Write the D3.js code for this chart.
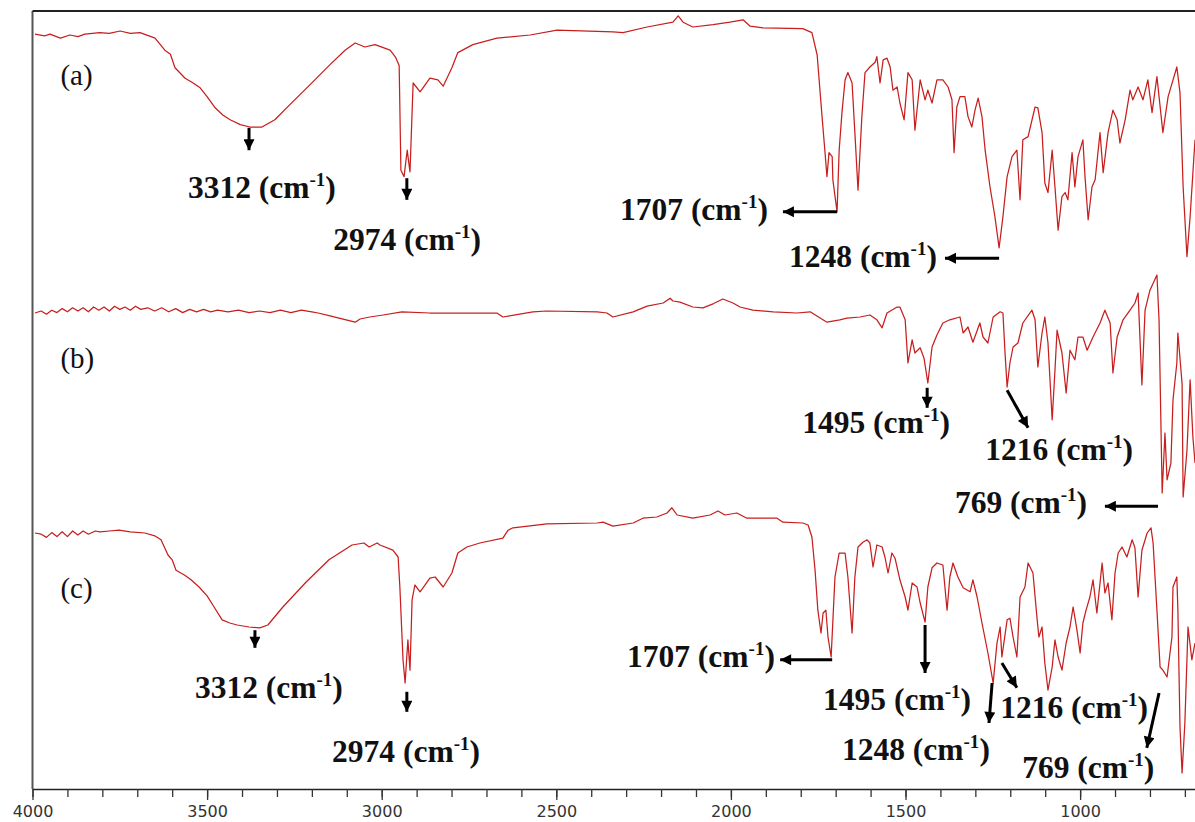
<!DOCTYPE html>
<html>
<head>
<meta charset="utf-8">
<script src="https://cdn.jsdelivr.net/npm/d3@7/dist/d3.min.js"></script>
<style>
  body { margin: 0; background: #fff; }
  svg { display: block; }
</style>
</head>
<body>
<svg id="chart"></svg>
<script>
const width = 1195;
const height = 822;

// FTIR spectra, [wavenumber cm-1, transmittance (arbitrary, stacked)]
const specA = [[3993,94.1],[3965,93.9],[3950,94.1],[3920,93.6],[3893,94.0],[3870,93.8],[3850,94.1],[3807,94.3],[3780,94.2],[3749,94.5],[3720,94.2],[3692,94.3],[3649,93.6],[3621,92.1],[3605,91.6],[3592,89.9],[3563,88.6],[3540,88.0],[3520,87.4],[3500,86.3],[3477,84.9],[3455,84.0],[3434,83.4],[3405,82.8],[3377,82.5],[3343,82.5],[3306,83.4],[3263,85.3],[3205,87.8],[3148,90.3],[3105,92.1],[3076,93.0],[3048,92.5],[3019,92.8],[2976,92.1],[2960,91.2],[2950,90.2],[2945,77.1],[2936,76.3],[2927,79.6],[2919,76.9],[2910,88.0],[2890,86.9],[2862,88.6],[2839,88.4],[2824,87.6],[2799,89.9],[2782,91.8],[2739,92.8],[2670,93.6],[2575,94.0],[2498,94.6],[2338,94.4],[2309,94.3],[2240,95.0],[2166,95.6],[2151,96.4],[2137,95.6],[2109,95.0],[2051,95.3],[2003,95.6],[1965,95.9],[1945,95.1],[1908,94.9],[1794,94.8],[1768,94.3],[1753,91.5],[1739,83.8],[1731,79.6],[1725,76.3],[1719,79.3],[1710,78.8],[1708,75.9],[1696,71.9],[1690,79.6],[1682,84.3],[1673,88.4],[1665,89.3],[1653,88.0],[1645,81.8],[1636,74.6],[1625,83.8],[1616,89.3],[1602,90.0],[1587,90.6],[1582,91.3],[1573,88.0],[1564,90.9],[1553,91.1],[1544,90.0],[1536,87.1],[1524,87.5],[1516,85.5],[1504,83.4],[1493,89.3],[1481,88.4],[1473,82.1],[1458,88.4],[1444,85.9],[1436,87.1],[1424,85.5],[1410,88.4],[1393,88.4],[1378,87.5],[1367,85.9],[1361,79.3],[1353,85.0],[1344,86.3],[1330,86.3],[1321,83.8],[1310,82.5],[1301,84.6],[1292,86.1],[1281,83.8],[1272,79.6],[1258,75.0],[1244,71.3],[1232,67.4],[1221,71.3],[1209,76.3],[1195,78.8],[1181,79.6],[1172,73.4],[1164,80.9],[1149,81.3],[1129,85.0],[1121,84.9],[1109,81.8],[1101,75.5],[1092,74.3],[1080,79.6],[1072,75.0],[1063,69.6],[1052,73.8],[1043,74.3],[1035,73.4],[1023,79.3],[1015,75.0],[1006,78.8],[992,80.9],[986,76.3],[977,70.9],[966,75.0],[957,75.9],[943,81.8],[934,76.8],[920,81.8],[906,84.6],[894,83.4],[886,80.5],[871,83.4],[857,87.1],[849,85.9],[834,87.5],[820,85.9],[806,88.4],[794,84.3],[780,88.8],[763,81.8],[748,86.3],[723,90.0],[714,86.8],[705,75.0],[694,66.3],[685,71.3],[671,80.9]];

const specB = [[3993,59.25],[3975,59.5],[3960,59.1],[3945,59.6],[3930,59.3],[3915,59.8],[3900,59.4],[3885,59.9],[3870,59.5],[3855,59.9],[3840,59.4],[3825,60.0],[3810,59.6],[3795,60.0],[3780,59.5],[3765,60.1],[3750,59.7],[3735,60.0],[3720,59.6],[3705,60.1],[3690,59.7],[3670,59.9],[3650,59.5],[3630,59.9],[3610,59.4],[3590,59.8],[3570,59.3],[3550,59.7],[3530,59.4],[3510,59.7],[3490,59.4],[3470,59.6],[3440,59.4],[3410,59.6],[3380,59.3],[3350,59.5],[3320,59.3],[3290,59.6],[3260,59.3],[3230,59.6],[3200,59.4],[3182,59.25],[3148,58.9],[3076,58.1],[3062,58.5],[3034,58.75],[2996,59.0],[2942,59.4],[2862,59.25],[2670,59.25],[2653,58.75],[2567,59.4],[2527,59.5],[2383,59.4],[2355,59.25],[2338,58.75],[2280,59.4],[2240,60.1],[2194,60.5],[2174,61.1],[2166,60.75],[2146,60.6],[2109,60.0],[2080,59.9],[2051,60.4],[2023,61.0],[1994,60.5],[1974,60.0],[1937,59.6],[1879,59.4],[1811,59.25],[1773,59.4],[1725,58.1],[1688,58.4],[1668,58.6],[1630,58.75],[1602,59.0],[1582,58.4],[1567,57.4],[1553,59.25],[1524,60.0],[1516,60.0],[1501,58.4],[1493,53.0],[1481,55.9],[1473,54.25],[1458,54.9],[1447,53.6],[1436,50.5],[1424,55.0],[1410,56.5],[1393,58.0],[1373,58.4],[1344,58.75],[1335,56.75],[1321,57.5],[1307,55.6],[1287,58.0],[1278,56.25],[1264,55.5],[1249,58.75],[1229,59.4],[1221,59.25],[1215,54.25],[1209,50.0],[1201,53.0],[1192,55.0],[1178,55.5],[1164,58.0],[1138,59.6],[1129,58.4],[1121,52.5],[1109,56.75],[1101,58.75],[1092,55.5],[1080,45.9],[1072,52.1],[1066,57.1],[1052,54.25],[1040,49.25],[1029,54.6],[1015,53.4],[1006,56.25],[992,56.25],[980,54.6],[963,56.25],[943,58.0],[929,59.6],[914,58.0],[906,51.75],[894,56.25],[877,58.4],[857,59.6],[843,60.5],[834,61.75],[823,50.25],[814,59.6],[800,62.1],[780,64.0],[774,58.4],[765,36.75],[757,44.25],[751,38.4],[740,40.5],[734,48.4],[723,53.0],[720,56.75],[708,50.4],[705,36.25],[694,42.1],[685,50.9],[677,43.75],[671,40.5]];

const specC = [[3993,31.75],[3975,31.6],[3960,31.2],[3945,31.8],[3930,31.3],[3915,31.9],[3900,31.3],[3885,32.0],[3870,31.5],[3855,32.0],[3840,31.6],[3820,32.0],[3807,31.9],[3780,32.0],[3752,32.1],[3720,31.9],[3678,31.75],[3650,31.4],[3632,30.9],[3612,29.0],[3600,28.4],[3589,27.1],[3565,26.5],[3546,25.9],[3523,25.0],[3500,23.9],[3480,22.5],[3457,20.9],[3435,20.5],[3414,20.25],[3380,20.0],[3349,19.9],[3326,20.25],[3283,22.5],[3217,25.6],[3151,28.4],[3085,30.25],[3051,30.5],[3036,30.0],[3013,30.5],[3005,30.25],[2968,29.6],[2953,28.75],[2948,25.0],[2939,15.9],[2933,13.0],[2925,18.4],[2919,14.6],[2913,23.4],[2905,25.25],[2890,24.4],[2862,26.1],[2847,26.25],[2824,25.0],[2799,26.75],[2782,29.25],[2756,30.0],[2719,30.5],[2653,31.1],[2638,32.1],[2624,32.4],[2527,32.9],[2383,33.0],[2366,33.1],[2338,32.6],[2280,33.0],[2252,33.6],[2212,33.75],[2183,34.25],[2169,34.9],[2154,34.0],[2109,33.6],[2060,34.0],[2037,34.5],[2017,34.0],[1983,34.25],[1954,33.6],[1908,33.6],[1868,33.6],[1851,33.1],[1794,33.0],[1779,32.75],[1768,31.25],[1759,27.1],[1751,22.1],[1742,19.25],[1736,21.75],[1728,22.1],[1722,18.75],[1713,16.25],[1702,26.25],[1690,29.25],[1673,29.25],[1665,26.25],[1653,19.25],[1645,26.25],[1636,30.0],[1622,30.6],[1610,30.9],[1602,30.5],[1593,27.5],[1582,30.25],[1567,30.0],[1559,28.75],[1550,26.75],[1539,29.25],[1530,28.6],[1516,25.9],[1501,23.75],[1493,22.1],[1481,25.5],[1467,25.0],[1458,23.0],[1444,20.6],[1436,25.0],[1424,27.4],[1410,28.0],[1393,27.75],[1381,22.1],[1373,26.25],[1364,28.0],[1350,26.25],[1335,24.9],[1315,24.4],[1307,25.9],[1295,23.75],[1281,20.5],[1264,16.75],[1249,13.0],[1238,18.0],[1229,20.0],[1224,16.25],[1209,20.9],[1201,21.1],[1192,18.75],[1181,16.25],[1172,23.75],[1158,25.0],[1149,28.0],[1135,26.75],[1123,20.9],[1118,18.75],[1109,20.0],[1101,15.5],[1092,12.1],[1080,15.0],[1072,18.4],[1063,16.25],[1052,14.6],[1040,18.0],[1029,20.0],[1020,22.5],[1009,19.6],[1000,16.75],[992,20.5],[983,22.1],[972,23.75],[963,25.9],[952,21.75],[937,28.0],[929,24.25],[920,25.5],[909,20.9],[900,26.75],[891,29.25],[880,30.0],[866,28.75],[851,30.9],[843,29.9],[834,23.75],[823,29.6],[808,31.75],[797,32.4],[791,30.5],[780,22.1],[771,15.0],[763,14.6],[751,13.75],[737,18.75],[734,25.0],[723,26.25],[720,22.1],[714,7.5],[708,1.75],[700,8.0],[691,20.0],[680,15.9],[671,18.0]];

const panelNames = ["(a)", "(b)", "(c)"];
const panelNameT = [87.75, 52.4, 23.6];
const panelNameW = 3920;

// peak label, arrow start (w, T), arrow end (w, T), label position (w, T), anchor
const peakNotes = [
  ["3312", 3380, 82.4, 3380, 79.6, 3555, 73.6, "start"],
  ["2974", 2928, 76.1, 2928, 73.4, 3139, 67.1, "start"],
  ["1707", 1696, 71.9, 1851, 71.9, 1894, 70.9, "end"],
  ["1248", 1232, 66.1, 1387, 66.1, 1410, 65.0, "end"],
  ["1495", 1438, 49.9, 1438, 47.4, 1796, 44.25, "start"],
  ["1216", 1209, 49.6, 1149, 44.9, 1272, 40.9, "start"],
  ["769", 777, 35.1, 929, 35.1, 980, 34.25, "end"],
  ["3312", 3363, 19.6, 3363, 17.4, 3535, 11.1, "start"],
  ["2974", 2928, 11.9, 2928, 9.4, 3142, 3.1, "start"],
  ["1707", 1710, 15.9, 1859, 15.9, 1874, 15.0, "end"],
  ["1495", 1444, 20.25, 1444, 14.25, 1736, 9.6, "start"],
  ["1248", 1252, 13.0, 1261, 8.0, 1682, 3.4, "start"],
  ["1216", 1224, 15.5, 1181, 12.4, 1229, 8.6, "start"],
  ["769", 774, 11.75, 809, 4.9, 1166, 1.1, "start"]
];

const majorTicks = [4000, 3500, 3000, 2500, 2000, 1500, 1000];
const minorTicks = d3.range(4000, 699, -100);

const plotLeft = 32.5, plotTop = 11, plotBottom = 789;

const svg = d3.select("#chart")
    .attr("width", width)
    .attr("height", height);

const x = d3.scaleLinear().domain([4000, 671]).range([plotLeft, width]);
const y = d3.scaleLinear().domain([-0.25, 97]).range([plotBottom, plotTop]);

svg.append("defs").append("clipPath").attr("id", "plotClip")
  .append("rect")
    .attr("x", plotLeft).attr("y", plotTop)
    .attr("width", width - plotLeft).attr("height", plotBottom - plotTop);

svg.append("marker")
    .attr("id", "head")
    .attr("viewBox", "0 0 10 10")
    .attr("refX", 10).attr("refY", 5)
    .attr("markerUnits", "userSpaceOnUse")
    .attr("markerWidth", 13).attr("markerHeight", 11)
    .attr("orient", "auto")
  .append("path")
    .attr("d", "M0,0 L10,5 L0,10 Z")
    .attr("fill", "#000");

// frame (left + top only, right side is cropped)
svg.append("line")
    .attr("x1", plotLeft).attr("x2", plotLeft)
    .attr("y1", plotTop).attr("y2", plotBottom)
    .attr("stroke", "#555").attr("stroke-width", 2);
svg.append("line")
    .attr("x1", plotLeft).attr("x2", width)
    .attr("y1", plotTop).attr("y2", plotTop)
    .attr("stroke", "#222").attr("stroke-width", 2);

// x axis
svg.append("g")
    .attr("transform", `translate(0,${plotBottom})`)
    .call(d3.axisBottom(x).tickValues(minorTicks).tickSize(8).tickSizeOuter(0).tickFormat(""))
    .call(g => g.select(".domain").attr("stroke", "#222").attr("stroke-width", 1.6))
    .call(g => g.selectAll(".tick line").attr("stroke", "#333").attr("stroke-width", 1.3));

svg.append("g")
    .attr("transform", `translate(0,${plotBottom})`)
    .call(d3.axisBottom(x).tickValues(majorTicks).tickSize(11).tickSizeOuter(0).tickPadding(6).tickFormat(d3.format("d")))
    .call(g => g.select(".domain").remove())
    .call(g => g.selectAll(".tick line").attr("stroke", "#333").attr("stroke-width", 1.3))
    .call(g => g.selectAll(".tick text")
        .attr("fill", "#333")
        .style("font-family", "'DejaVu Sans', Verdana, sans-serif")
        .style("font-size", "16px"));

const line = d3.line()
    .x(d => x(d[0]))
    .y(d => y(d[1]));

svg.append("g")
    .attr("clip-path", "url(#plotClip)")
  .selectAll("path")
  .data([specA, specB, specC])
  .join("path")
    .attr("d", line)
    .attr("fill", "none")
    .attr("stroke", "#c81e1e")
    .attr("stroke-width", 1.25)
    .attr("stroke-linejoin", "round");

svg.selectAll(".panel-name")
  .data(panelNames)
  .join("text")
    .attr("class", "panel-name")
    .attr("x", x(panelNameW))
    .attr("y", (d, i) => y(panelNameT[i]))
    .style("font-family", "'Liberation Serif', 'Times New Roman', serif")
    .style("font-size", "29px")
    .attr("fill", "#111")
    .text(d => d);

const notes = svg.append("g");

notes.selectAll("line")
  .data(peakNotes)
  .join("line")
    .attr("x1", d => x(d[1])).attr("y1", d => y(d[2]))
    .attr("x2", d => x(d[3])).attr("y2", d => y(d[4]))
    .attr("stroke", "#000")
    .attr("stroke-width", 3)
    .attr("marker-end", "url(#head)");

const labels = notes.selectAll("text")
  .data(peakNotes)
  .join("text")
    .attr("x", d => x(d[5]))
    .attr("y", d => y(d[6]))
    .attr("text-anchor", d => d[7])
    .style("font-family", "'Liberation Serif', 'Times New Roman', serif")
    .style("font-weight", "bold")
    .style("font-size", "31.5px")
    .attr("fill", "#111");

labels.append("tspan").text(d => `${d[0]} (cm`);
labels.append("tspan").attr("dy", -12).style("font-size", "19px").text("-1");
labels.append("tspan").attr("dy", 12).text(")");
</script>
</body>
</html>
